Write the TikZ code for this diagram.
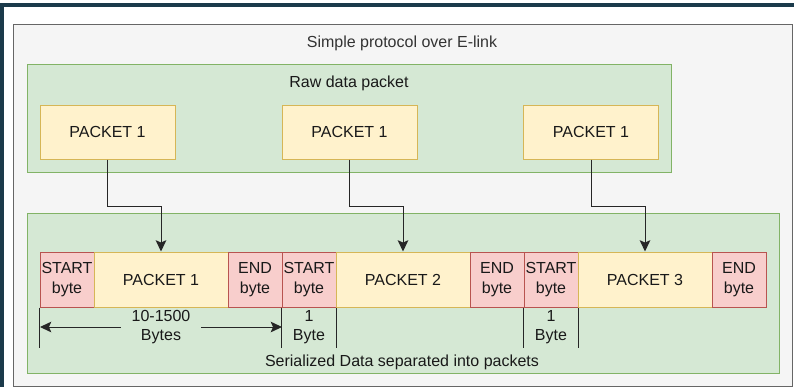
\documentclass[tikz,border=0pt]{standalone}
\usepackage{fontspec}
\setmainfont{Liberation Sans}
\usetikzlibrary{arrows.meta}

\definecolor{framedark}{HTML}{1B3A4B}
\definecolor{grayfill}{HTML}{F5F5F5}
\definecolor{grayline}{HTML}{666666}
\definecolor{graytext}{HTML}{333333}
\definecolor{greenfill}{HTML}{D5E8D4}
\definecolor{greenline}{HTML}{82B366}
\definecolor{yellowfill}{HTML}{FFF2CC}
\definecolor{yellowline}{HTML}{D6B656}
\definecolor{redfill}{HTML}{F8CECC}
\definecolor{redline}{HTML}{B85450}

\tikzset{
  lbl/.style={font=\fontsize{12}{14.5}\selectfont, align=center, inner sep=0pt, text=black!90},
  container/.style={draw, line width=0.75pt, inner sep=0pt, anchor=center},
  graybox/.style={container, fill=grayfill, draw=grayline},
  greenbox/.style={container, fill=greenfill, draw=greenline},
  rawpkt/.style={lbl, draw=yellowline, fill=yellowfill, line width=0.75pt,
    minimum width=101.25pt, minimum height=40.5pt},
  datapkt/.style={lbl, draw=yellowline, fill=yellowfill, line width=0.75pt,
    minimum width=100.5pt, minimum height=41.25pt},
  markbyte/.style={lbl, draw=redline, fill=redfill, line width=0.75pt,
    minimum width=40.5pt, minimum height=41.25pt},
  tipshape/.tip={Stealth[length=8.5pt, width=8pt, inset=1.8pt]},
  arr/.style={line width=0.75pt, draw=black!85, -tipshape},
  dimarr/.style={line width=0.75pt, draw=black!85, tipshape-tipshape},
  tick/.style={line width=0.75pt, draw=black!85},
}

\begin{document}
\begin{tikzpicture}[x=0.75pt, y=-0.75pt]
\useasboundingbox (0,0) rectangle (794,387);
\fill[white] (0,0) rectangle (794,387);

% window frame edges
\fill[framedark] (0,3) rectangle (794,7);
\fill[framedark] (0,3) rectangle (4,387);

% containers
\node[graybox, minimum width=584.25pt, minimum height=271.5pt] (outer) at (402.5,205) {};
\node[lbl, text=graytext] (outertitle) at (402,43) {Simple protocol over E-link};

\node[greenbox, minimum width=483pt, minimum height=81pt] (raw) at (349,118) {};
\node[lbl] (rawtitle) at (349,83) {Raw data packet};

\node[greenbox, minimum width=564pt, minimum height=120pt] (ser) at (403,293) {};
\node[lbl] (sertitle) at (402,362) {Serialized Data separated into packets};

% raw packets
\node[rawpkt] (t1) at (107.5,132) {PACKET 1};
\node[rawpkt] (t2) at (349.5,132) {PACKET 1};
\node[rawpkt] (t3) at (591,132) {PACKET 1};

% serialized stream
\node[markbyte] (s1) at (67,279.5) {START\\byte};
\node[datapkt]  (p1) at (161,279.5) {PACKET 1};
\node[markbyte] (e1) at (255,279.5) {END\\byte};
\node[markbyte] (s2) at (309,279.5) {START\\byte};
\node[datapkt]  (p2) at (403,279.5) {PACKET 2};
\node[markbyte] (e2) at (497,279.5) {END\\byte};
\node[markbyte] (s3) at (551,279.5) {START\\byte};
\node[datapkt]  (p3) at (645,279.5) {PACKET 3};
\node[markbyte] (e3) at (739,279.5) {END\\byte};

% routing of each raw packet into the stream
\coordinate (m1) at (161,206);
\coordinate (m2) at (403,206);
\coordinate (m3) at (645,206);
\draw[arr] (t1.south) |- (m1) -- (p1.north);
\draw[arr] (t2.south) |- (m2) -- (p2.north);
\draw[arr] (t3.south) |- (m3) -- (p3.north);

% dimension ticks
\draw[tick] (s1.south west) -- ++(0,40);
\draw[tick] (s2.south west) -- ++(0,40);
\draw[tick] (s2.south east) -- ++(0,40);
\draw[tick] (s3.south west) -- ++(0,40);
\draw[tick] (s3.south east) -- ++(0,40);

% packet length dimension
\coordinate (dl) at (40,327);
\coordinate (dr) at (282,327);
\draw[dimarr] (dl) -- (dr)
  node[lbl, midway, fill=greenfill, inner xsep=8pt] (lenlbl) {10-1500\\Bytes};

\node[lbl] (b1) at (309,327) {1\\Byte};
\node[lbl] (b2) at (551,327) {1\\Byte};
\end{tikzpicture}
\end{document}
